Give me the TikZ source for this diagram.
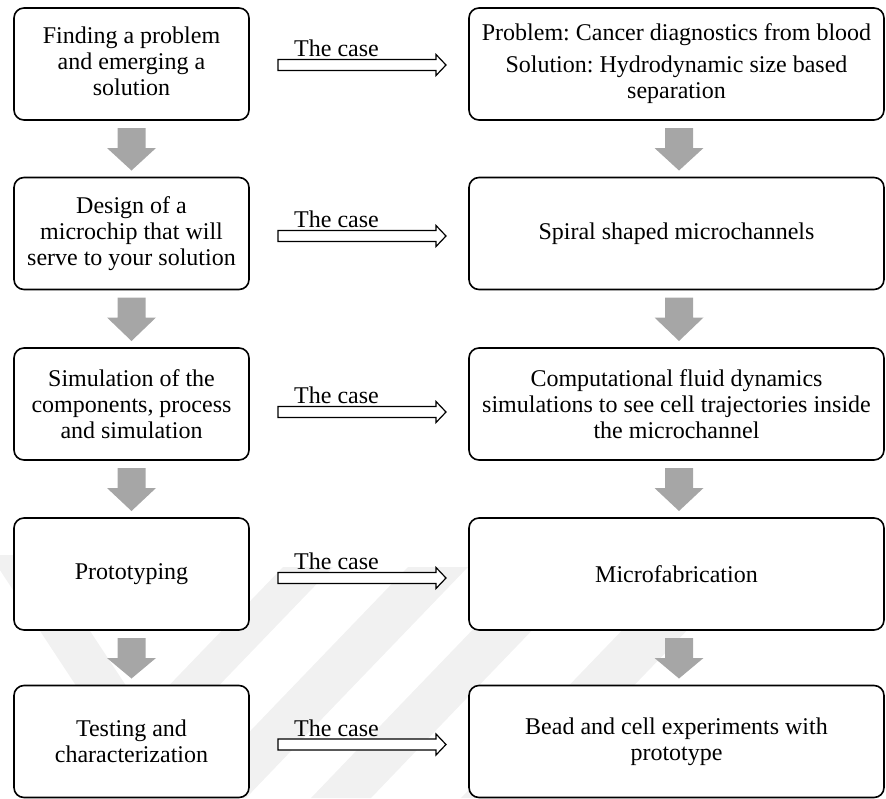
\documentclass[tikz,border=0pt]{standalone}
\usepackage{fontspec}
\setmainfont{Liberation Serif}
\frenchspacing
\usetikzlibrary{calc}
\definecolor{arrowgray}{HTML}{A6A6A6}
\definecolor{wmgray}{HTML}{F1F1F1}
\newcommand\grayarrow[3]{%
  \fill[blockarrow] ($(#1.south)+(#3-14,8)$) -- ++(28,0) -- ++(0,20) -- ++(10.5,0)
    -- ($(#2.north)+(#3,-7)$) -- ($(#1.south)+(#3-24.5,28)$) -- ++(10.5,0) -- cycle;}
\newcommand\casearrow[4]{%
  \draw[casearrow] ($(#1.east)+(29,#3-5.5)$) -- ($(#2.west)+(-33,#3-5.5)$)
    -- ($(#2.west)+(-33,#3-10.5)$) -- ($(#2.west)+(-23,#3)$)
    -- ($(#2.west)+(-33,#3+10.5)$) -- ($(#2.west)+(-33,#3+5.5)$)
    -- ($(#1.east)+(29,#3+5.5)$) -- cycle;
  \node[caselabel] (#4) at ($(#1.east)+(45,#3-8.5)$) {The case};}
\begin{document}
\begin{tikzpicture}[x=1pt,y=-1pt,
  box/.style={draw=black, line width=1.6pt, rounded corners=10pt, fill=white,
    align=center, inner sep=4pt, outer sep=0pt, font=\fontsize{24}{26}\selectfont},
  lbox/.style={box, minimum width=235pt, minimum height=112pt},
  rbox/.style={box, minimum width=415pt, minimum height=112pt},
  boxtext/.style={align=center, inner sep=0pt, font=\fontsize{24}{26}\selectfont},
  blockarrow/.style={fill=arrowgray},
  casearrow/.style={draw=black, line width=1.2pt, fill=white, line join=miter},
  caselabel/.style={anchor=base west, inner sep=0pt, font=\fontsize{24}{26}\selectfont},
  wm/.style={fill=wmgray}
]
\useasboundingbox (0,0) rectangle (886,798);
\begin{scope}
\clip (0,0) rectangle (886,798);
% faint watermark bands
\fill[wm] (-10,555) -- (40,555) -- (200,798) -- (150,798) -- cycle;
\fill[wm] (155,700) -- (205,700) -- (333,567) -- (283,567) -- cycle;
\fill[wm] (155,700) -- (205,700) -- (112,798) -- (62,798) -- cycle;
\fill[wm] (280,700) -- (340,700) -- (468,567) -- (408,567) -- cycle;
\fill[wm] (280,700) -- (340,700) -- (246,798) -- (186,798) -- cycle;
\fill[wm] (405,700) -- (465,700) -- (593,567) -- (533,567) -- cycle;
\fill[wm] (405,700) -- (465,700) -- (371,798) -- (311,798) -- cycle;
\fill[wm] (555,700) -- (620,700) -- (748,567) -- (683,567) -- cycle;
\fill[wm] (555,700) -- (620,700) -- (526,798) -- (461,798) -- cycle;
\end{scope}

\node[lbox] (L1) at (131.5,64) {};
\node[boxtext] (L1t) at ($(L1.center)+(0,-3)$) {Finding a problem\\and emerging a\\solution};
\node[rbox] (R1) at (676.5,64) {Problem: Cancer diagnostics from blood\\[6pt]Solution: Hydrodynamic size based\\separation};
\node[lbox] (L2) at (131.5,233.5) {Design of a\\microchip that will\\serve to your solution};
\node[rbox] (R2) at (676.5,233.5) {Spiral shaped microchannels};
\node[lbox] (L3) at (131.5,404) {Simulation of the\\components, process\\and simulation};
\node[rbox] (R3) at (676.5,404) {Computational fluid dynamics\\simulations to see cell trajectories inside\\the microchannel};
\node[lbox] (L4) at (131.5,574) {Prototyping};
\node[rbox] (R4) at (676.5,574) {Microfabrication};
\node[lbox] (L5) at (131.5,741.5) {Testing and\\characterization};
\node[rbox] (R5) at (676.5,741.5) {Bead and cell experiments with\\prototype};

\grayarrow{L1}{L2}{0}
\grayarrow{L2}{L3}{0}
\grayarrow{L3}{L4}{0}
\grayarrow{L4}{L5}{0}
\grayarrow{R1}{R2}{2.5}
\grayarrow{R2}{R3}{2.5}
\grayarrow{R3}{R4}{2.5}
\grayarrow{R4}{R5}{2.5}

\casearrow{L1}{R1}{1}{c1}
\casearrow{L2}{R2}{2.5}{c2}
\casearrow{L3}{R3}{8}{c3}
\casearrow{L4}{R4}{4}{c4}
\casearrow{L5}{R5}{3}{c5}
\end{tikzpicture}
\end{document}
